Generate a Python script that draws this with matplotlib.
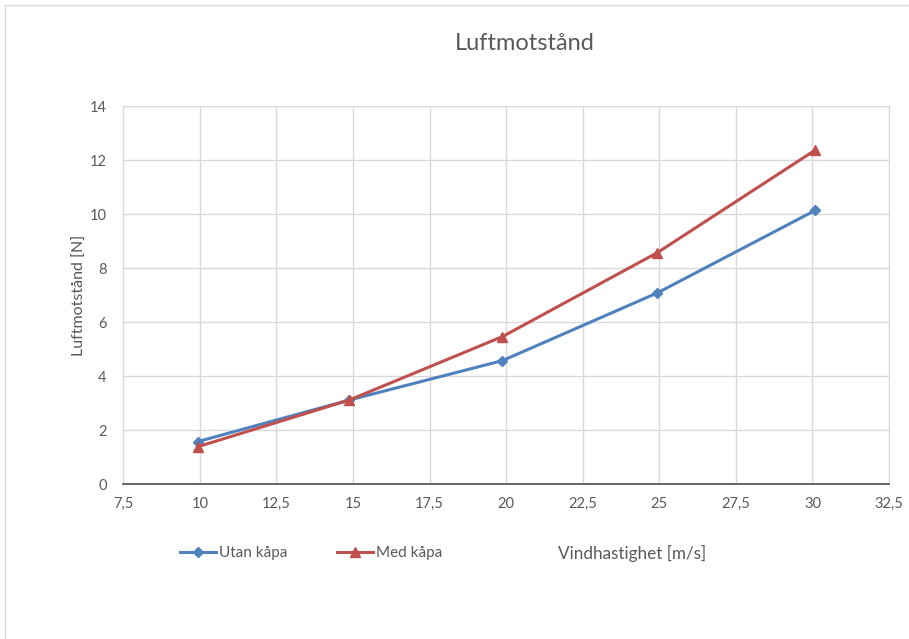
import matplotlib
matplotlib.use("Agg")
import matplotlib.pyplot as plt
from matplotlib.lines import Line2D
from matplotlib.ticker import FuncFormatter, MultipleLocator

plt.rcParams['font.family'] = ['Lato', 'DejaVu Sans']

# Mätdata: vindhastighet [m/s] och luftmotstånd [N]
utan_v = [9.93, 14.88, 19.88, 24.94, 30.10]
utan_f = [1.57, 3.11, 4.57, 7.08, 10.14]
med_v = [9.93, 14.88, 19.88, 24.94, 30.08]
med_f = [1.38, 3.11, 5.46, 8.57, 12.36]

blue = '#4F81BD'
red = '#C0504D'
grid = '#D9D9D9'
text = '#595959'

W, H = 909, 639
fig = plt.figure(figsize=(W / 100, H / 100), dpi=100)
ax = fig.add_axes([123.3 / W, 1 - 484 / H, (889 - 123.3) / W, (484 - 106) / H])

ax.plot(utan_v, utan_f, color=blue, lw=2.2, marker='D', ms=5.5, label='Utan kåpa', zorder=3)
ax.plot(med_v, med_f, color=red, lw=2.2, marker='^', ms=7, label='Med kåpa', zorder=3)

ax.set_xlim(7.5, 32.5)
ax.set_ylim(0, 14)
ax.xaxis.set_major_locator(MultipleLocator(2.5))
ax.yaxis.set_major_locator(MultipleLocator(2))
ax.xaxis.set_major_formatter(FuncFormatter(lambda v, p: f'{v:g}'.replace('.', ',')))
ax.grid(True, color=grid, lw=1)
ax.set_axisbelow(True)
for side in ('left', 'right', 'top'):
    ax.spines[side].set_color(grid)
ax.spines['bottom'].set_color('#595959')
ax.spines['bottom'].set_linewidth(1.3)
ax.tick_params(length=0, labelsize=10.5, labelcolor=text, pad=9)
ax.tick_params(axis='y', pad=12)

ax.set_ylabel('Luftmotstånd [N]', fontsize=11.5, color=text, labelpad=2)
fig.text(525 / W, 1 - 44 / H, 'Luftmotstånd', fontsize=17, color=text, ha='center', va='center')
fig.text(632 / W, 1 - 553 / H, 'Vindhastighet [m/s]', fontsize=12.3, color=text, ha='center', va='center')

fig.legend(loc='center left', bbox_to_anchor=(166 / W, 1 - 553 / H), ncol=2, frameon=False,
           fontsize=11, labelcolor=text, handlelength=2.4, handletextpad=0.2, columnspacing=3.2)

# ram runt diagrammet
fig.add_artist(Line2D([5 / W, 1], [1 - 5 / H, 1 - 5 / H], color=grid, lw=1))
fig.add_artist(Line2D([5 / W, 5 / W], [0, 1 - 5 / H], color=grid, lw=1))

fig.savefig('out.png', dpi=100)
